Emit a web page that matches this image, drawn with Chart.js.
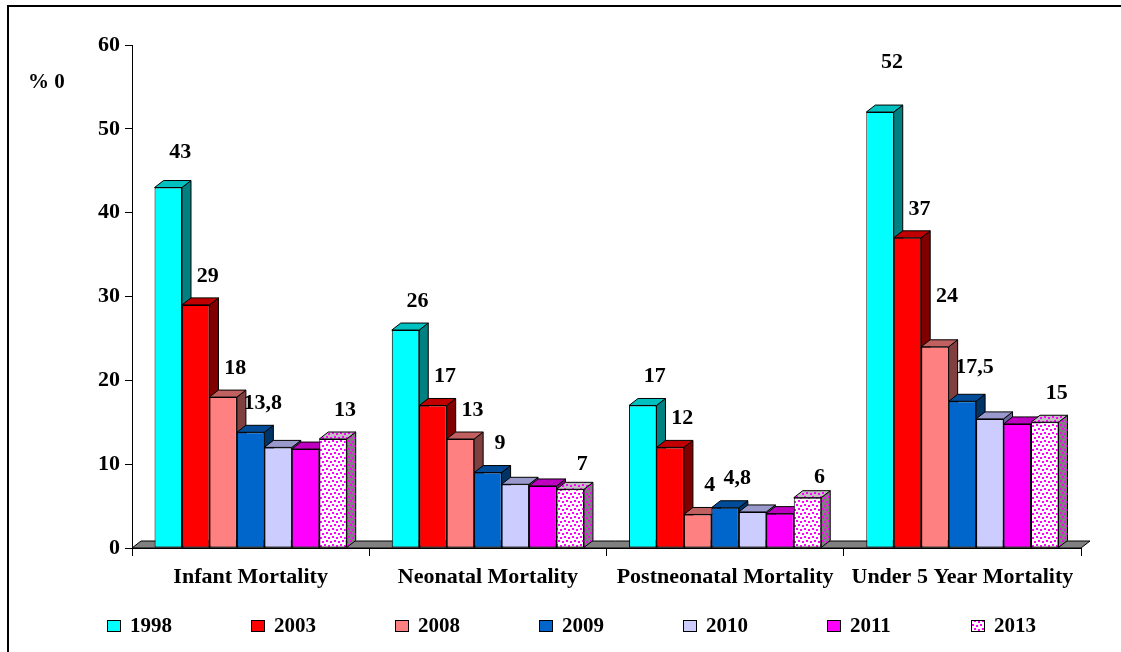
<!DOCTYPE html>
<html>
<head>
<meta charset="utf-8">
<script src="https://cdn.jsdelivr.net/npm/chart.js@4.4.1/dist/chart.umd.min.js"></script>
<style>
  html, body { margin: 0; padding: 0; background: #fff; }
  #c { display: block; }
</style>
</head>
<body>
<canvas id="c" width="1121" height="652"></canvas>
<script>
// ---- data ----
const categories = ['Infant Mortality', 'Neonatal Mortality', 'Postneonatal Mortality', 'Under 5 Year Mortality'];
const years = ['1998', '2003', '2008', '2009', '2010', '2011', '2013'];
const v1998 = [43, 26, 17, 52];
const v2003 = [29, 17, 12, 37];
const v2008 = [18, 13, 4, 24];
const v2009 = [13.8, 9, 4.8, 17.5];
const v2010 = [12, 7.6, 4.3, 15.4];
const v2011 = [11.8, 7.4, 4.1, 14.8];
const v2013 = [13, 7, 6, 15];
const yTicks = [0, 10, 20, 30, 40, 50, 60];
const labelledYears = ['1998', '2003', '2008', '2009', '2013'];
const unitLabel = '% 0';

// ---- styles ----
const FONT = '"Liberation Serif", "Times New Roman", serif';
const DX = 9, DY = 7; // depth of the pseudo-3D columns
// extra vertical shift (px) for a few value labels, keyed "year-categoryIndex"
const labelNudge = { '1998-0': -6, '1998-3': -21, '2008-3': -21, '2009-3': -5, '2013-2': 9, '2013-1': 4 };

function dotPattern(bg, dot) {
  const t = document.createElement('canvas');
  t.width = 8; t.height = 8;
  const g = t.getContext('2d');
  g.fillStyle = bg; g.fillRect(0, 0, 8, 8);
  g.fillStyle = dot;
  [[0, 1], [4, 0], [2, 5], [6, 4]].forEach(([x, y]) => g.fillRect(x, y, 2, 2));
  return document.getElementById('c').getContext('2d').createPattern(t, 'repeat');
}

const frontFills = ['#00FFFF', '#FF0000', '#FF8080', '#0066CC', '#CCCCFF', '#FF00FF', dotPattern('#FFFFFF', '#FF00FF')];
const topFills   = ['#00C0C0', '#C00000', '#C06060', '#004C99', '#9999CC', '#C000C0', dotPattern('#C0C0C0', '#FF00FF')];
const sideFills  = ['#008080', '#800000', '#804040', '#003366', '#666699', '#800080', dotPattern('#808080', '#FF00FF')];
const seriesValues = [v1998, v2003, v2008, v2009, v2010, v2011, v2013];

function poly(ctx, pts, fill) {
  ctx.beginPath();
  ctx.moveTo(pts[0][0], pts[0][1]);
  for (let i = 1; i < pts.length; i++) ctx.lineTo(pts[i][0], pts[i][1]);
  ctx.closePath();
  ctx.fillStyle = fill;
  ctx.fill();
  ctx.strokeStyle = '#000';
  ctx.lineWidth = 1;
  ctx.stroke();
}

// floor plus the top and side faces of every column, drawn category by category
const depthPlugin = {
  id: 'depth',
  beforeDatasetsDraw(chart) {
    const ctx = chart.ctx;
    const { left, right, bottom } = chart.chartArea;
    ctx.save();
    poly(ctx, [[left, bottom], [left + DX, bottom - DY], [right + DX, bottom - DY], [right, bottom]], '#808080');
    for (let c = 0; c < categories.length; c++) {
      chart.data.datasets.forEach((ds, d) => {
        const el = chart.getDatasetMeta(d).data[c];
        const { x, y, base, width } = el.getProps(['x', 'y', 'base', 'width'], true);
        const L = x - width / 2, R = x + width / 2;
        poly(ctx, [[R, y], [R + DX, y - DY], [R + DX, base - DY], [R, base]], sideFills[d]);
        poly(ctx, [[L, y], [L + DX, y - DY], [R + DX, y - DY], [R, y]], topFills[d]);
      });
    }
    ctx.restore();
  }
};

// value labels above the selected series
const valuePlugin = {
  id: 'values',
  afterDatasetsDraw(chart) {
    const ctx = chart.ctx;
    ctx.save();
    ctx.font = 'bold 22px ' + FONT;
    ctx.fillStyle = '#000';
    ctx.textAlign = 'center';
    ctx.textBaseline = 'middle';
    chart.data.datasets.forEach((ds, d) => {
      if (!labelledYears.includes(ds.label)) return;
      chart.getDatasetMeta(d).data.forEach((el, i) => {
        const txt = String(ds.data[i]).replace('.', ',');
        const nudge = labelNudge[ds.label + '-' + i] || 0;
        ctx.fillText(txt, el.x + 12, el.y - 29 + nudge);
      });
    });
    ctx.restore();
  }
};

// frame, unit label and legend
const chromePlugin = {
  id: 'chrome',
  afterDraw(chart) {
    const ctx = chart.ctx;
    ctx.save();
    ctx.strokeStyle = '#000';
    ctx.lineWidth = 2;
    ctx.beginPath();
    ctx.moveTo(8, 652); ctx.lineTo(8, 6); ctx.lineTo(1121, 6);
    ctx.stroke();

    ctx.fillStyle = '#000';
    ctx.font = 'bold 21px ' + FONT;
    ctx.textAlign = 'left';
    ctx.textBaseline = 'middle';
    ctx.fillText(unitLabel, 28, 83);

    const y0 = 626;
    chart.data.datasets.forEach((ds, d) => {
      const bx = 107 + d * 144;
      ctx.fillStyle = frontFills[d];
      ctx.fillRect(bx, y0 - 6, 14, 12);
      ctx.lineWidth = 1;
      ctx.strokeStyle = '#000';
      ctx.strokeRect(bx + 0.5, y0 - 5.5, 13, 11);
      ctx.fillStyle = '#000';
      ctx.font = 'bold 21px ' + FONT;
      ctx.textBaseline = 'middle';
      ctx.fillText(ds.label, bx + 23, y0 + 1);
    });
    ctx.restore();
  }
};

new Chart(document.getElementById('c'), {
  type: 'bar',
  data: {
    labels: categories,
    datasets: years.map((yr, d) => ({
      label: yr,
      data: seriesValues[d],
      backgroundColor: frontFills[d],
      borderColor: '#000',
      borderWidth: 1,
      borderSkipped: false,
      categoryPercentage: 0.81,
      barPercentage: 1.0
    }))
  },
  options: {
    responsive: false,
    animation: false,
    devicePixelRatio: 1,
    layout: { padding: { left: 0, right: 40, top: 45, bottom: 0 } },
    plugins: { legend: { display: false }, tooltip: { enabled: false } },
    scales: {
      x: {
        offset: true,
        grid: { offset: true, drawOnChartArea: false, tickLength: 8, color: '#000', lineWidth: 1 },
        border: { color: '#000', width: 1 },
        ticks: { color: '#000', font: { family: FONT, size: 22, weight: 'bold' }, padding: 8, maxRotation: 0, autoSkip: false },
        afterFit(s) { s.height = 104; }
      },
      y: {
        min: 0, max: 60,
        afterBuildTicks(s) { s.ticks = yTicks.map(v => ({ value: v })); },
        grid: { drawOnChartArea: false, tickLength: 7, color: '#000', lineWidth: 1 },
        border: { color: '#000', width: 1 },
        ticks: { color: '#000', font: { family: FONT, size: 22, weight: 'bold' }, padding: 5 },
        afterFit(s) { s.width = 132; }
      }
    }
  },
  plugins: [depthPlugin, valuePlugin, chromePlugin]
});
</script>
</body>
</html>
